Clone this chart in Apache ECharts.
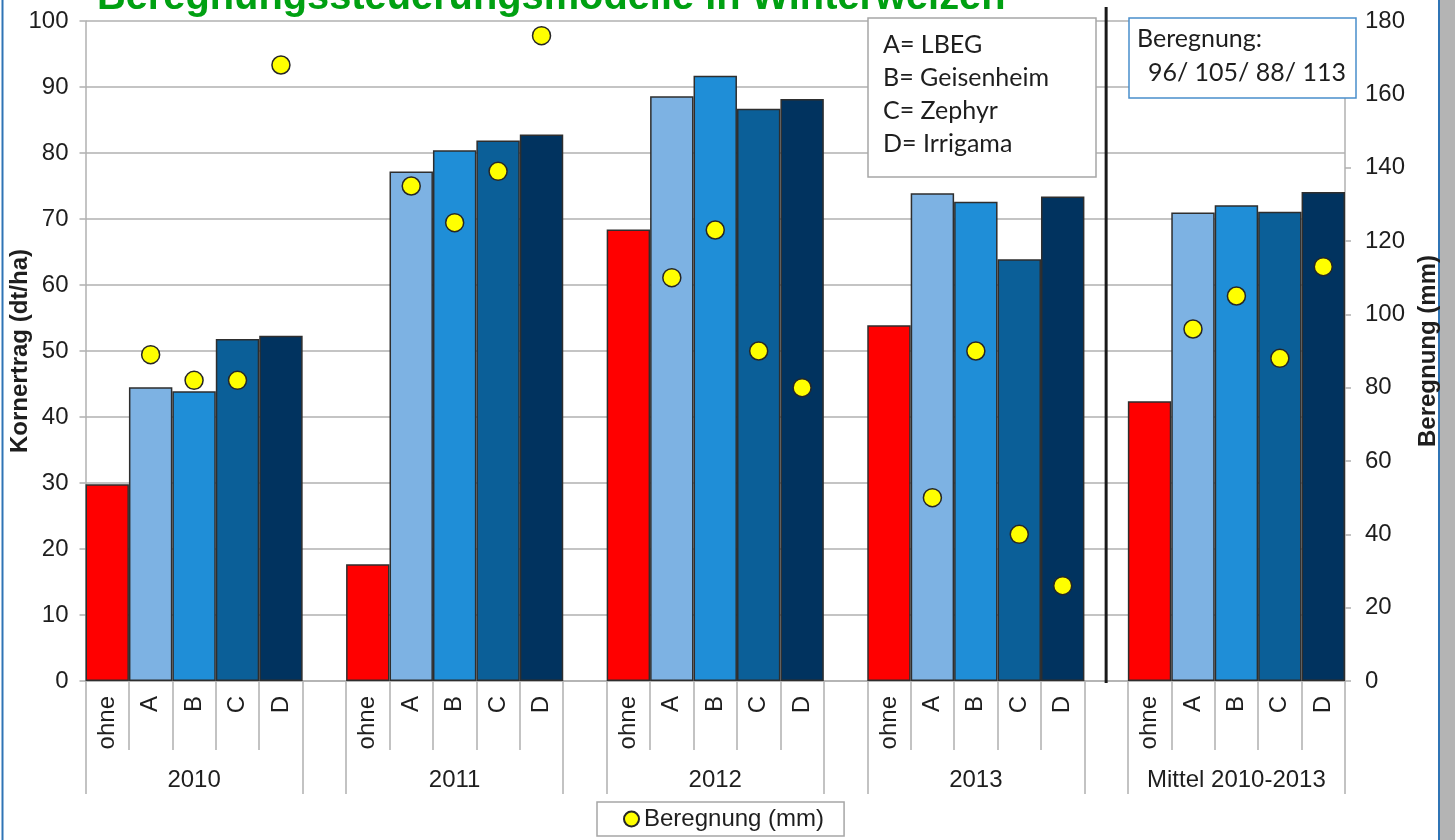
<!DOCTYPE html>
<html>
<head>
<meta charset="utf-8">
<script src="https://cdn.jsdelivr.net/npm/echarts@6/dist/echarts.min.js"></script>
<style>
  html, body { margin: 0; padding: 0; background: #ffffff; }
  #chart { width: 1455px; height: 840px; }
</style>
</head>
<body>
<div id="chart"></div>
<script>
// Groups on the category axis and the variants inside each group
const groups = ['2010', '2011', '2012', '2013', 'Mittel 2010-2013'];
const variants = ['ohne', 'A', 'B', 'C', 'D'];

// Kornertrag (dt/ha) per group, order: ohne, A, B, C, D
const yield2010 = [29.8, 44.5, 43.9, 51.8, 52.3];
const yield2011 = [17.7, 77.2, 80.4, 81.9, 82.8];
const yield2012 = [68.4, 88.6, 91.7, 86.7, 88.2];
const yield2013 = [53.9, 73.9, 72.6, 63.9, 73.4];
const yieldMean = [42.4, 71.0, 72.1, 71.1, 74.1];

// Beregnung (mm) per group, no irrigation for "ohne"
const irrig2010 = [null, 89, 82, 82, 168];
const irrig2011 = [null, 135, 125, 139, 176];
const irrig2012 = [null, 110, 123, 90, 80];
const irrig2013 = [null, 50, 90, 40, 26];
const irrigMean = [null, 96, 105, 88, 113];

// Axis ranges
const leftAxisMin = 0, leftAxisMax = 100, leftAxisStep = 10;
const rightAxisMin = 0, rightAxisMax = 180, rightAxisStep = 20;

// Text boxes
const modelNotes = ['A= LBEG', 'B= Geisenheim', 'C= Zephyr', 'D= Irrigama'];
const meanNoteTitle = 'Beregnung:';
const meanNoteValues = irrigMean.slice(1).join('/ ');
const chartTitle = 'Beregnungssteuerungsmodelle in Winterweizen';

// Fill colours per variant
const variantColors = ['#ff0000', '#7db2e3', '#1f8ed7', '#0b5f98', '#01335f'];

const yieldGroups = [yield2010, yield2011, yield2012, yield2013, yieldMean];
const irrigGroups = [irrig2010, irrig2011, irrig2012, irrig2013, irrigMean];

// Flatten the groups into one category list with an empty slot between groups
const categories = [];
const groupLabels = [];
const groupStarts = [];
const barData = [];
const dotData = [];
let lastGapIndex = -1;
groups.forEach(function (g, gi) {
  groupStarts.push(categories.length);
  variants.forEach(function (v, vi) {
    categories.push(v);
    groupLabels.push(vi === 2 ? g : '');
    barData.push({ value: yieldGroups[gi][vi], itemStyle: { color: variantColors[vi] } });
    dotData.push(irrigGroups[gi][vi]);
  });
  if (gi < groups.length - 1) {
    if (gi === groups.length - 2) lastGapIndex = categories.length;
    groupStarts.push(categories.length);
    categories.push('');
    groupLabels.push('');
    barData.push(null);
    dotData.push(null);
  }
});

const FONT = '"Liberation Sans", Arial, sans-serif';
const NOTE_FONT = '25px Lato, "Noto Sans", sans-serif';
const GRID = '#b0b0b0';
const TEXT = '#1e1e1e';
const FS = 24;

const chart = echarts.init(document.getElementById('chart'));

const option = {
  animation: false,
  textStyle: { fontFamily: FONT, color: TEXT },
  grid: { left: 85.5, right: 110, top: 21, bottom: 159, containLabel: false, outerBoundsMode: 'none' },
  legend: {
    data: ['Beregnung (mm)'],
    left: 597,
    top: 802,
    orient: 'horizontal',
    borderColor: '#a6a6a6',
    borderWidth: 1.5,
    padding: [5, 20, 5, 26],
    itemWidth: 15,
    itemHeight: 15,
    icon: 'circle',
    textStyle: { fontSize: FS, color: TEXT, fontFamily: FONT }
  },
  xAxis: [
    {
      type: 'category',
      data: categories,
      position: 'bottom',
      axisLine: { show: true, lineStyle: { color: GRID, width: 1.5 } },
      axisTick: { show: true, interval: 0, length: 69, lineStyle: { color: GRID, width: 1.5 } },
      axisLabel: { interval: 0, rotate: 90, margin: 15, fontSize: FS, color: TEXT, fontFamily: FONT },
      splitLine: { show: false }
    },
    {
      type: 'category',
      data: groupLabels,
      position: 'bottom',
      offset: 0,
      axisLine: { show: false },
      axisTick: {
        show: true,
        length: 113,
        interval: function (idx) { return groupStarts.indexOf(idx) >= 0; },
        lineStyle: { color: GRID, width: 1.5 }
      },
      axisLabel: {
        interval: function (idx) { return groupLabels[idx] !== ''; },
        margin: 87,
        fontSize: FS,
        color: TEXT,
        fontFamily: FONT
      },
      splitLine: { show: false }
    }
  ],
  yAxis: [
    {
      type: 'value',
      position: 'left',
      min: leftAxisMin, max: leftAxisMax, interval: leftAxisStep,
      name: 'Kornertrag (dt/ha)',
      nameLocation: 'middle',
      nameRotate: 90,
      nameGap: 53,
      nameMoveOverlap: false,
      nameTextStyle: { fontSize: FS, fontWeight: 'bold', color: TEXT, fontFamily: FONT },
      axisLine: { show: true, lineStyle: { color: GRID, width: 1.5 } },
      axisTick: { show: true, length: 6, lineStyle: { color: GRID, width: 1.5 } },
      axisLabel: { margin: 17, fontSize: FS, color: TEXT, fontFamily: FONT },
      splitLine: { show: true, lineStyle: { color: GRID, width: 1.5 } }
    },
    {
      type: 'value',
      position: 'right',
      min: rightAxisMin, max: rightAxisMax, interval: rightAxisStep,
      name: 'Beregnung (mm)',
      nameLocation: 'middle',
      nameRotate: 90,
      nameGap: 68,
      nameTextStyle: { fontSize: FS, fontWeight: 'bold', color: TEXT, fontFamily: FONT },
      axisLine: { show: true, lineStyle: { color: GRID, width: 1.5 } },
      axisTick: { show: true, length: 6, lineStyle: { color: GRID, width: 1.5 } },
      axisLabel: { margin: 20, fontSize: FS, color: TEXT, fontFamily: FONT },
      splitLine: { show: false }
    }
  ],
  series: [
    {
      name: 'Kornertrag',
      type: 'bar',
      xAxisIndex: 0,
      yAxisIndex: 0,
      data: barData,
      barCategoryGap: '0%',
      itemStyle: { borderColor: '#2e2e2e', borderWidth: 1.5 },
      silent: true
    },
    {
      name: 'Beregnung (mm)',
      type: 'scatter',
      xAxisIndex: 0,
      yAxisIndex: 1,
      data: dotData,
      symbol: 'circle',
      symbolSize: 18,
      itemStyle: { color: '#ffff00', borderColor: '#262626', borderWidth: 1.5, opacity: 1 },
      z: 5
    }
  ]
};

chart.setOption(option);

// Separator line through the gap before the mean group, plus notes and frame
const sepX = chart.convertToPixel({ xAxisIndex: 0 }, lastGapIndex);
chart.setOption({
  graphic: [
    { type: 'rect', shape: { x: 1440, y: 0, width: 15, height: 840 }, style: { fill: '#b4b4b4' }, silent: true },
    { type: 'line', shape: { x1: 2.5, y1: 0, x2: 2.5, y2: 840 }, style: { stroke: '#2f74b5', lineWidth: 2 }, silent: true },
    { type: 'line', shape: { x1: 1439, y1: 0, x2: 1439, y2: 840 }, style: { stroke: '#2f74b5', lineWidth: 2 }, silent: true },
    {
      type: 'text', left: 97, top: -22, silent: true,
      style: { text: chartTitle, fill: '#00a012', font: 'bold 39.8px "Liberation Sans", Arial, sans-serif' }
    },
    {
      type: 'line', silent: true, z: 10,
      shape: { x1: sepX, y1: 7, x2: sepX, y2: 683 },
      style: { stroke: '#1a1a1a', lineWidth: 3 }
    },
    {
      type: 'rect', silent: true, z: 20,
      shape: { x: 868, y: 18, width: 228, height: 159 },
      style: { fill: '#ffffff', stroke: '#a6a6a6', lineWidth: 1.5 }
    },
    {
      type: 'text', silent: true, z: 21, x: 883, y: 28,
      style: { text: modelNotes.join('\n'), fill: TEXT, font: NOTE_FONT, lineHeight: 33 }
    },
    {
      type: 'rect', silent: true, z: 20,
      shape: { x: 1129, y: 18, width: 227, height: 80 },
      style: { fill: '#ffffff', stroke: '#4a8fcb', lineWidth: 1.5 }
    },
    {
      type: 'text', silent: true, z: 21, x: 1137, y: 26,
      style: { text: meanNoteTitle, fill: TEXT, font: NOTE_FONT }
    },
    {
      type: 'text', silent: true, z: 21, x: 1346, y: 60,
      style: { text: meanNoteValues, fill: TEXT, align: 'right', font: NOTE_FONT }
    }
  ]
});
</script>
</body>
</html>
